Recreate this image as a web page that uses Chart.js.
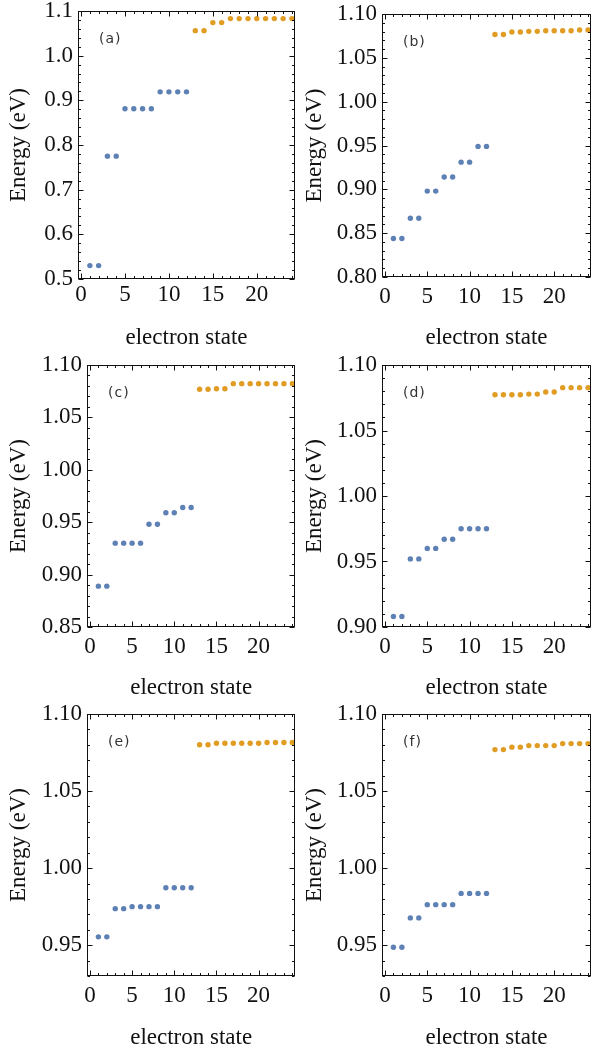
<!DOCTYPE html>
<html>
<head>
<meta charset="utf-8">
<script src="https://cdn.jsdelivr.net/npm/chart.js@4.4.0/dist/chart.umd.min.js"></script>
<style>
  html, body { margin: 0; padding: 0; background: #fff; overflow: hidden; }
  #wrap { position: relative; width: 592px; height: 1048px; overflow: hidden; }
  .cell { position: absolute; width: 298px; height: 350px; }
</style>
</head>
<body>
<div id="wrap">
  <div class="cell" style="left:0;top:0"><canvas id="pa"></canvas></div>
  <div class="cell" style="left:296px;top:0"><canvas id="pb"></canvas></div>
  <div class="cell" style="left:0;top:350px"><canvas id="pc"></canvas></div>
  <div class="cell" style="left:296px;top:350px"><canvas id="pd"></canvas></div>
  <div class="cell" style="left:0;top:700px"><canvas id="pe"></canvas></div>
  <div class="cell" style="left:296px;top:700px"><canvas id="pf"></canvas></div>
</div>
<script>
// electron state index
var blueStates = [1, 2, 3, 4, 5, 6, 7, 8, 9, 10, 11, 12];
var orangeStates = [13, 14, 15, 16, 17, 18, 19, 20, 21, 22, 23, 24];

// energies (eV) per panel
var blueA = [0.530, 0.530, 0.775, 0.775, 0.881, 0.881, 0.881, 0.881, 0.919, 0.919, 0.919, 0.919];
var orangeA = [1.056, 1.056, 1.074, 1.074, 1.083, 1.083, 1.083, 1.083, 1.083, 1.083, 1.083, 1.083];
var blueB = [0.844, 0.844, 0.867, 0.867, 0.898, 0.898, 0.914, 0.914, 0.931, 0.931, 0.949, 0.949];
var orangeB = [1.0767, 1.0767, 1.0794, 1.0794, 1.0802, 1.0802, 1.0809, 1.0809, 1.0809, 1.0809, 1.0817, 1.0817];
var blueC = [0.889, 0.889, 0.930, 0.930, 0.930, 0.930, 0.948, 0.948, 0.959, 0.959, 0.964, 0.964];
var orangeC = [1.0768, 1.0768, 1.0774, 1.0774, 1.0822, 1.0822, 1.0822, 1.0822, 1.0822, 1.0822, 1.0822, 1.0822];
var blueD = [0.908, 0.908, 0.952, 0.952, 0.960, 0.960, 0.967, 0.967, 0.975, 0.975, 0.975, 0.975];
var orangeD = [1.0773, 1.0773, 1.0773, 1.0773, 1.0778, 1.0778, 1.0794, 1.0794, 1.0827, 1.0827, 1.0827, 1.0827];
var blueE = [0.9554, 0.9554, 0.9737, 0.9737, 0.975, 0.975, 0.975, 0.975, 0.9873, 0.9873, 0.9873, 0.9873];
var orangeE = [1.080, 1.080, 1.081, 1.081, 1.081, 1.081, 1.081, 1.081, 1.0815, 1.0815, 1.0815, 1.0815];
var blueF = [0.9487, 0.9487, 0.9677, 0.9677, 0.9763, 0.9763, 0.9763, 0.9763, 0.9836, 0.9836, 0.9836, 0.9836];
var orangeF = [1.0769, 1.0769, 1.0785, 1.0785, 1.0795, 1.0795, 1.0795, 1.0795, 1.0808, 1.0808, 1.0808, 1.0808];

// tick values and labels
var xTicks = [0, 5, 10, 15, 20];
var xLabels = ['0', '5', '10', '15', '20'];
var yTicksA = [0.5, 0.6, 0.7, 0.8, 0.9, 1.0, 1.1];
var yLabelsA = ['0.5', '0.6', '0.7', '0.8', '0.9', '1.0', '1.1'];
var yTicksB = [0.80, 0.85, 0.90, 0.95, 1.00, 1.05, 1.10];
var yLabelsB = ['0.80', '0.85', '0.90', '0.95', '1.00', '1.05', '1.10'];
var yTicksC = [0.85, 0.90, 0.95, 1.00, 1.05, 1.10];
var yLabelsC = ['0.85', '0.90', '0.95', '1.00', '1.05', '1.10'];
var yTicksD = [0.90, 0.95, 1.00, 1.05, 1.10];
var yLabelsD = ['0.90', '0.95', '1.00', '1.05', '1.10'];
var yTicksE = [0.95, 1.00, 1.05, 1.10];
var yLabelsE = ['0.95', '1.00', '1.05', '1.10'];

var BLUE = '#5e81b5';
var ORANGE = '#e19c24';
var serif = '"Liberation Serif", "Times New Roman", serif';

// frame with inward ticks on all sides, plus panel tag
var framePlugin = {
    id: 'frame',
    afterDraw: function (chart, args, opts) {
        var ctx = chart.ctx;
        var a = chart.chartArea;
        var xs = chart.scales.x, ys = chart.scales.y;
        var L = Math.round(a.left) + 0.5, R = Math.round(a.right) - 0.5;
        var T = Math.round(a.top) + 0.5, B = Math.round(a.bottom) - 0.5;
        ctx.save();
        ctx.strokeStyle = '#111';
        ctx.lineWidth = 1;
        ctx.strokeRect(L, T, R - L, B - T);

        ctx.beginPath();
        // x ticks (every 1, major every 5)
        for (var i = 0; i <= 24; i++) {
            var px = Math.round(xs.getPixelForValue(i)) + 0.5;
            var len = (i % 5 === 0) ? 5 : 2.5;
            ctx.moveTo(px, B); ctx.lineTo(px, B - len);
            ctx.moveTo(px, T); ctx.lineTo(px, T + len);
        }
        // y ticks
        var n = Math.round((ys.max - ys.min) / opts.minor);
        for (var j = 0; j <= n; j++) {
            var v = ys.min + j * opts.minor;
            var isMajor = opts.major.some(function (m) { return Math.abs(m - v) < 1e-6; });
            var py = Math.round(ys.getPixelForValue(v)) + 0.5;
            var l2 = isMajor ? 5 : 2.5;
            ctx.moveTo(L, py); ctx.lineTo(L + l2, py);
            ctx.moveTo(R, py); ctx.lineTo(R - l2, py);
        }
        ctx.stroke();

        ctx.fillStyle = '#333';
        ctx.font = '14px "DejaVu Sans", sans-serif';
        ctx.letterSpacing = '1px';
        ctx.textBaseline = 'middle';
        ctx.textAlign = 'left';
        ctx.fillText(opts.tag, a.left + 21, a.top + 28.5);
        ctx.restore();
    }
};

function makePanel(id, tag, blue, orange, yMin, yMax, yTicks, yLabels, minor, area, xPad) {
    var W = 298, H = 350;
    return new Chart(document.getElementById(id), {
        type: 'scatter',
        data: {
            datasets: [
                {
                    data: blueStates.map(function (s, i) { return { x: s, y: blue[i] }; }),
                    backgroundColor: BLUE, pointRadius: 2.7, pointBorderWidth: 0, pointHoverRadius: 2.7
                },
                {
                    data: orangeStates.map(function (s, i) { return { x: s, y: orange[i] }; }),
                    backgroundColor: ORANGE, pointRadius: 2.7, pointBorderWidth: 0, pointHoverRadius: 2.7
                }
            ]
        },
        options: {
            responsive: true,
            maintainAspectRatio: false,
            animation: false,
            layout: { padding: { left: 0, top: area.t, right: W - area.r, bottom: 0 } },
            plugins: {
                legend: { display: false },
                tooltip: { enabled: false },
                frame: { tag: tag, minor: minor, major: yTicks }
            },
            scales: {
                x: {
                    type: 'linear',
                    min: -0.35,
                    max: 24.35,
                    afterBuildTicks: function (s) { s.ticks = xTicks.map(function (v) { return { value: v }; }); },
                    afterFit: function (s) {
                        s.height = H - area.b;
                        s.paddingLeft = 0; s.paddingRight = 0;
                    },
                    grid: { display: false, drawTicks: false },
                    border: { display: false },
                    ticks: {
                        autoSkip: false, maxRotation: 0, padding: xPad, color: '#111',
                        font: { family: serif, size: 23, lineHeight: 1.2 },
                        callback: function (v, i) { return xLabels[i]; }
                    },
                    title: {
                        display: true, text: 'electron state', color: '#111',
                        font: { family: serif, size: 23, lineHeight: 1 },
                        padding: { top: 0, bottom: 1 }
                    }
                },
                y: {
                    type: 'linear',
                    min: yMin,
                    max: yMax,
                    afterBuildTicks: function (s) { s.ticks = yTicks.map(function (v) { return { value: v }; }); },
                    afterFit: function (s) {
                        s.width = area.l;
                        s.paddingTop = 0; s.paddingBottom = 0;
                    },
                    grid: { display: false, drawTicks: false },
                    border: { display: false },
                    ticks: {
                        autoSkip: false, padding: 5, color: '#111',
                        font: { family: serif, size: 23, lineHeight: 1.2 },
                        callback: function (v, i) { return yLabels[i]; }
                    },
                    title: {
                        display: true, text: 'Energy (eV)', color: '#111',
                        font: { family: serif, size: 23, lineHeight: 1 },
                        padding: { top: 7.5, bottom: 0 }
                    }
                }
            }
        },
        plugins: [framePlugin]
    });
}

makePanel('pa', '(a)', blueA, orangeA, 0.5, 1.1, yTicksA, yLabelsA, 0.02, { l: 78, t: 11, r: 295, b: 279 }, 2.5);
makePanel('pb', '(b)', blueB, orangeB, 0.80, 1.10, yTicksB, yLabelsB, 0.01, { l: 86, t: 14, r: 295, b: 277 }, 6.5);
makePanel('pc', '(c)', blueC, orangeC, 0.85, 1.10, yTicksC, yLabelsC, 0.01, { l: 87, t: 15, r: 297, b: 277 }, 6.5);
makePanel('pd', '(d)', blueD, orangeD, 0.90, 1.10, yTicksD, yLabelsD, 0.01, { l: 86, t: 15, r: 295, b: 277 }, 6.5);
makePanel('pe', '(e)', blueE, orangeE, 0.93, 1.10, yTicksE, yLabelsE, 0.01, { l: 87, t: 14, r: 297, b: 276 }, 6.5);
makePanel('pf', '(f)', blueF, orangeF, 0.93, 1.10, yTicksE, yLabelsE, 0.01, { l: 86, t: 14, r: 295, b: 276 }, 6.5);
</script>
</body>
</html>
